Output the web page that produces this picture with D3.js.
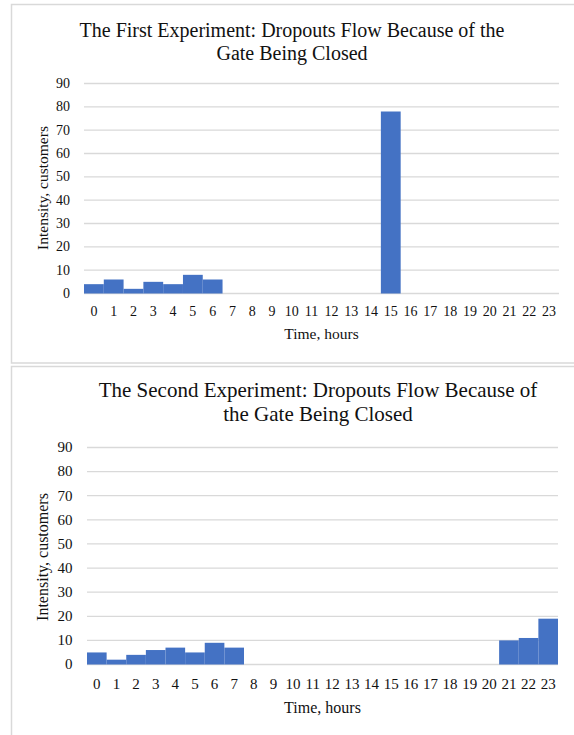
<!DOCTYPE html>
<html>
<head>
<meta charset="utf-8">
<script src="https://cdn.jsdelivr.net/npm/d3@7"></script>
<style>
  html, body { margin: 0; padding: 0; background: #fff; }
  svg { display: block; font-family: "Liberation Serif", "Times New Roman", serif; }
</style>
</head>
<body>
<svg id="chart" width="574" height="735"></svg>
<script>
// Hourly categories along the x axis
const hours = d3.range(24).map(String);

// Dropouts per hour, first experiment
const firstExperiment = [4, 6, 2, 5, 4, 8, 6, 0, 0, 0, 0, 0, 0, 0, 0, 78, 0, 0, 0, 0, 0, 0, 0, 0];

// Dropouts per hour, second experiment
const secondExperiment = [5, 2, 4, 6, 7, 5, 9, 7, 0, 0, 0, 0, 0, 0, 0, 0, 0, 0, 0, 0, 0, 10, 11, 19];

// Value axis ticks
const yTicks = [0, 10, 20, 30, 40, 50, 60, 70, 80, 90];

const titles = [
  ["The First Experiment: Dropouts Flow Because of the", "Gate Being Closed"],
  ["The Second Experiment: Dropouts Flow Because of", "the Gate Being Closed"]
];

const svg = d3.select("#chart");
const BAR = "#4472C4";
const GRID = "#d9d9d9";
const INK = "#111";

// Panel layouts
const panels = [
  {
    values: firstExperiment, title: titles[0],
    frame: { x: 11.5, y: 4.5, h: 358.5 },
    x0: 84, x1: 559, y0: 293.5, y1: 83.5,
    titleX: 292, titleY: [37, 60], titleSize: 20,
    tickSize: 14, yLabelX: 70, xLabelY: 316,
    axisSize: 15.5, xTitleY: 339, yTitleX: 48, yTitleY: 188
  },
  {
    values: secondExperiment, title: titles[1],
    frame: { x: 11.5, y: 366.5, h: 400 },
    x0: 87, x1: 558, y0: 664.5, y1: 447.5,
    titleX: 318, titleY: [397, 421], titleSize: 21,
    tickSize: 15, yLabelX: 72.5, xLabelY: 689,
    axisSize: 16, xTitleY: 713, yTitleX: 48, yTitleY: 557
  }
];

panels.forEach(p => {
  const g = svg.append("g");

  // frame
  g.append("rect")
    .attr("x", p.frame.x).attr("y", p.frame.y)
    .attr("width", 600).attr("height", p.frame.h)
    .attr("fill", "none").attr("stroke", GRID).attr("stroke-width", 1.5);

  const x = d3.scaleBand().domain(hours).range([p.x0, p.x1]).padding(0);
  const y = d3.scaleLinear().domain([0, 90]).range([p.y0, p.y1]);

  // title
  const t = g.append("text")
    .attr("text-anchor", "middle")
    .attr("font-size", p.titleSize)
    .attr("fill", INK);
  p.title.forEach((line, i) => {
    t.append("tspan").attr("x", p.titleX).attr("y", p.titleY[i]).text(line);
  });

  // gridlines
  g.append("g").selectAll("line").data(yTicks).join("line")
    .attr("x1", p.x0).attr("x2", p.x1)
    .attr("y1", d => y(d)).attr("y2", d => y(d))
    .attr("stroke", GRID).attr("stroke-width", 1.3);

  // y tick labels
  g.append("g").selectAll("text").data(yTicks).join("text")
    .attr("x", p.yLabelX).attr("y", d => y(d))
    .attr("dy", "0.32em")
    .attr("text-anchor", "end")
    .attr("font-size", p.tickSize)
    .attr("fill", INK)
    .text(d => d);

  // bars
  g.append("g").selectAll("rect").data(p.values).join("rect")
    .attr("x", (d, i) => x(hours[i]))
    .attr("width", x.bandwidth())
    .attr("y", d => y(d))
    .attr("height", d => y(0) - y(d))
    .attr("fill", BAR);

  // x tick labels
  g.append("g").selectAll("text").data(hours).join("text")
    .attr("x", d => x(d) + x.bandwidth() / 2)
    .attr("y", p.xLabelY)
    .attr("text-anchor", "middle")
    .attr("font-size", p.tickSize)
    .attr("fill", INK)
    .text(d => d);

  // axis titles
  g.append("text")
    .attr("x", (p.x0 + p.x1) / 2).attr("y", p.xTitleY)
    .attr("text-anchor", "middle")
    .attr("font-size", p.axisSize)
    .attr("fill", INK)
    .text("Time, hours");

  g.append("text")
    .attr("transform", `translate(${p.yTitleX},${p.yTitleY}) rotate(-90)`)
    .attr("text-anchor", "middle")
    .attr("font-size", p.axisSize)
    .attr("fill", INK)
    .text("Intensity, customers");
});
</script>
</body>
</html>
